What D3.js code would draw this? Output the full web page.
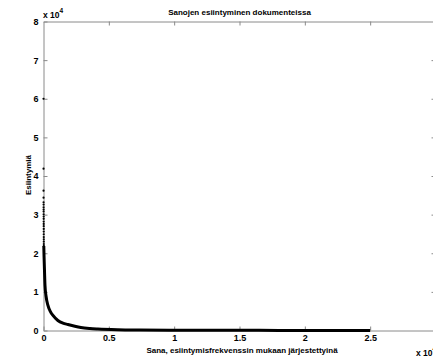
<!DOCTYPE html>
<html>
<head>
<meta charset="utf-8">
<script src="https://cdn.jsdelivr.net/npm/d3@7"></script>
<style>
  html, body { margin: 0; padding: 0; background: #fff; }
  svg { display: block; font-family: "Liberation Sans", Arial, Helvetica, sans-serif; }
</style>
</head>
<body>
<svg id="chart" width="433" height="359"></svg>
<script>
// ---- data ----
const titleText = "Sanojen esiintyminen dokumenteissa";
const xLabelText = "Sana, esiintymisfrekvenssin mukaan järjestettyinä";
const yLabelText = "Esiintymiä";

// word rank (x) and number of occurrences (y), sorted by frequency
const ranks = [1, 2, 3, 4, 5, 6, 7, 8, 9, 10, 11, 12, 13, 14, 15, 16, 17, 18, 19, 20, 21, 22, 23,
  40, 76, 115, 190, 340, 530, 725, 1100, 1490, 1870, 2400, 2860, 3550, 4160, 5690, 7370, 9660,
  12000, 15000, 18000, 21000, 23000, 25000];
const counts = [60000, 41900, 36200, 34400, 33200, 32600, 31900, 31300, 30800, 30100, 29500, 28900,
  28200, 27600, 27000, 26300, 25600, 24900, 24200, 23600, 23000, 22400, 21900,
  19400, 15500, 11600, 9000, 6500, 4900, 3900, 2600, 1900, 1550, 1100, 780, 520, 390, 210, 130, 80,
  60, 45, 30, 15, 8, 2];

const xTicks = [0, 5000, 10000, 15000, 20000, 25000];
const xTickLabels = ["0", "0.5", "1", "1.5", "2", "2.5"];
const yTicks = [0, 10000, 20000, 30000, 40000, 50000, 60000, 70000, 80000];
const yTickLabels = ["0", "1", "2", "3", "4", "5", "6", "7", "8"];

// ---- drawing ----
const svg = d3.select("#chart");
const L = 43.5, R = 435.5, T = 21.5, B = 330.5;
const x = d3.scaleLinear().domain([0, 30000]).range([L, R]);
const y = d3.scaleLinear().domain([0, 80000]).range([B, T]);
const axisColor = "#8a8a8a";

function styleAxis(g) {
  g.select(".domain").attr("stroke", axisColor).attr("stroke-width", 1);
  g.selectAll(".tick line").attr("stroke", axisColor);
  g.selectAll(".tick text").attr("fill", "#000").attr("font-size", "9px").attr("font-weight", "bold")
    .attr("font-family", "'Liberation Sans', Arial, sans-serif");
}

const xFmt = d => xTickLabels[xTicks.indexOf(d)];
const yFmt = d => yTickLabels[yTicks.indexOf(d)];

svg.append("g").attr("transform", `translate(0,${B})`)
  .call(d3.axisBottom(x).tickValues(xTicks).tickFormat(xFmt).tickSizeInner(-4).tickSizeOuter(0).tickPadding(4))
  .call(styleAxis);
svg.append("g").attr("transform", `translate(0,${T})`)
  .call(d3.axisTop(x).tickValues(xTicks.slice(1)).tickFormat("").tickSizeInner(-4).tickSizeOuter(0))
  .call(styleAxis);
svg.append("g").attr("transform", `translate(${L},0)`)
  .call(d3.axisLeft(y).tickValues(yTicks).tickFormat(yFmt).tickSizeInner(-4).tickSizeOuter(0).tickPadding(5))
  .call(styleAxis);
svg.append("g").attr("transform", `translate(${R},0)`)
  .call(d3.axisRight(y).tickValues(yTicks.slice(1, -1)).tickFormat("").tickSizeInner(-4).tickSizeOuter(0))
  .call(styleAxis);

const pts = ranks.map((r, i) => [r, counts[i]]);

// dense curve of markers, drawn as a thick line
svg.append("path")
  .datum(pts.slice(22))
  .attr("fill", "none")
  .attr("stroke", "#000")
  .attr("stroke-width", 3)
  .attr("stroke-linejoin", "round")
  .attr("d", d3.line().x(d => x(d[0])).y(d => y(d[1])).curve(d3.curveMonotoneX));

// individual top-frequency words as dots
svg.append("g").selectAll("circle")
  .data(pts.slice(0, 23))
  .join("circle")
  .attr("cx", d => x(d[0]))
  .attr("cy", d => y(d[1]))
  .attr("r", 1.1)
  .attr("fill", "#000");

// texts
svg.append("text").attr("x", (L + R) / 2).attr("y", 14.5)
  .attr("text-anchor", "middle").attr("font-size", "8px").attr("font-weight", "bold")
  .text(titleText);
svg.append("text").attr("x", 242).attr("y", 352.5)
  .attr("text-anchor", "middle").attr("font-size", "8px").attr("font-weight", "bold")
  .text(xLabelText);
svg.append("text").attr("transform", "translate(31,175) rotate(-90)")
  .attr("text-anchor", "middle").attr("font-size", "8px").attr("font-weight", "bold")
  .text(yLabelText);

// exponent labels
const e1 = svg.append("text").attr("x", 43).attr("y", 17.5).attr("font-size", "8.5px").attr("font-weight", "bold");
e1.append("tspan").text("x 10");
e1.append("tspan").attr("dy", -4.5).attr("font-size", "6.5px").text("4");
const e2 = svg.append("text").attr("x", 416).attr("y", 355.5).attr("font-size", "8.5px").attr("font-weight", "bold");
e2.append("tspan").text("x 10");
e2.append("tspan").attr("dy", -4.5).attr("font-size", "6.5px").text("4");
</script>
</body>
</html>
